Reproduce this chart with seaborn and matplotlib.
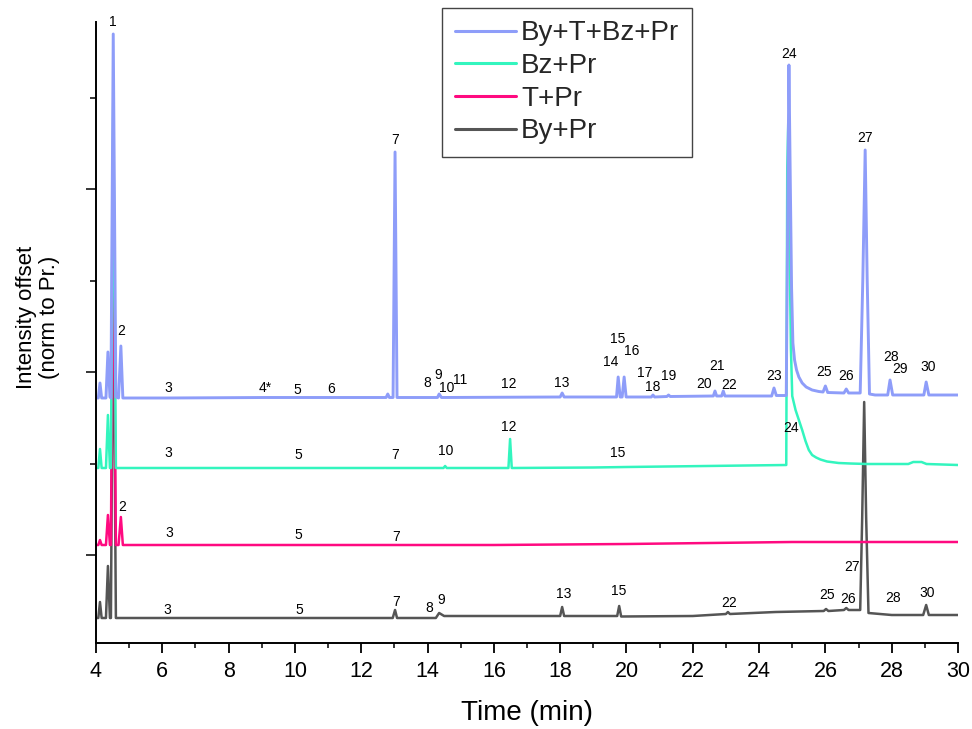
import numpy as np
import pandas as pd
import matplotlib
matplotlib.use("Agg")
import matplotlib.pyplot as plt
import seaborn as sns
from matplotlib.ticker import MultipleLocator, AutoMinorLocator
from matplotlib.lines import Line2D

sns.set_theme(style="white")
plt.rcParams["font.family"] = ["Liberation Sans", "DejaVu Sans"]

# ---------------- data ----------------
series_names = ["By+T+Bz+Pr", "Bz+Pr", "T+Pr", "By+Pr"]
series_colors = ["#8E9DF9", "#33F5BE", "#FF0A80", "#555555"]
series_offsets = [245, 175, 98, 25]

# By+T+Bz+Pr (time in min, intensity above own baseline)
blue_time = [4.00, 4.07, 4.12, 4.17, 4.30, 4.36, 4.42, 4.45, 4.52, 4.60, 4.68, 4.75, 4.81,
             6.10, 9.10, 10.06, 11.09, 12.75, 12.80, 12.85, 12.96, 13.02, 13.08,
             14.30, 14.35, 14.42, 18.00, 18.06, 18.12, 19.70, 19.75, 19.81, 19.87, 19.93, 19.99,
             20.75, 20.80, 20.85, 21.22, 21.27, 21.32, 22.62, 22.67, 22.72, 22.87, 22.92, 22.97,
             24.38, 24.45, 24.52, 24.82, 24.90, 24.94, 24.98, 25.02, 25.07, 25.13, 25.20,
             25.30, 25.42, 25.60, 25.80, 25.93, 26.00, 26.07, 26.56, 26.63, 26.70, 27.05,
             27.13, 27.20, 27.26, 27.33, 27.50, 27.88, 27.95, 28.03, 28.97, 29.04, 29.12, 30.00]
blue_int = [0, 0, 15, 0, 0, 46, 1, 0, 364, 1, 0, 52, 0,
            0, 0.5, 0.5, 0.5, 0.5, 4, 0.5, 0.5, 246, 0.5,
            0.5, 4, 0.5, 1, 5, 1, 1, 21, 1, 1, 21, 1,
            1, 3, 1, 1.5, 3, 1.5, 2, 7, 2, 2, 7, 2,
            2, 10, 2.5, 2.5, 333, 220, 110, 55, 38, 28, 21,
            15, 11, 8, 6.5, 6, 12, 5.5, 5, 9, 5, 5,
            120, 248, 120, 4, 3, 3, 18, 3, 3, 16, 3, 3]

# Bz+Pr
green_time = [4.00, 4.07, 4.12, 4.17, 4.30, 4.36, 4.42, 4.45, 4.52, 4.60, 4.68,
              14.48, 14.53, 14.58, 16.44, 16.49, 16.54, 19.00, 20.00, 24.82, 24.85, 24.88,
              24.92, 24.96, 25.00, 25.10, 25.20, 25.30, 25.40, 25.50, 25.60, 25.72, 25.85,
              26.05, 26.40, 26.75, 27.26, 28.50, 28.65, 28.90, 29.05, 30.00]
green_int = [0, 0, 19, 0, 0, 53, 0, 0, 364, 0, 0,
             0, 2, 0, 0, 29, 0, 0.5, 1, 3, 300, 345,
             220, 120, 72, 58, 48, 38, 27, 18, 13, 10.5, 8.5,
             6.5, 5, 4.5, 4, 4, 6, 6, 4, 3]

# T+Pr
pink_time = [4.00, 4.07, 4.12, 4.17, 4.30, 4.36, 4.42, 4.45, 4.52, 4.60, 4.68, 4.75, 4.81,
             16.00, 20.00, 25.00, 30.00]
pink_int = [0, 0, 5, 0, 0, 30, 0, 0, 364, 0, 0, 28, 0,
            0, 1, 3, 3]

# By+Pr
grey_time = [4.00, 4.07, 4.12, 4.17, 4.30, 4.36, 4.42, 4.45, 4.52, 4.60, 4.68,
             12.95, 13.02, 13.08, 14.25, 14.35, 14.50, 18.00, 18.06, 18.12, 19.72, 19.78,
             19.84, 22.00, 23.00, 23.06, 23.12, 24.50, 25.95, 26.02, 26.09, 26.56, 26.63,
             26.70, 27.05, 27.11, 27.17, 27.23, 27.30, 28.00, 28.95, 29.04, 29.12, 30.00]
grey_int = [0, 0, 16, 0, 0, 52, 0, 0, 364, 0, 0,
            0, 8, 0, 0, 5, 2, 2, 11, 2, 2, 12,
            1.5, 2, 4, 6, 4, 6, 7, 9, 7, 8, 10,
            8, 8, 100, 216, 100, 5, 3, 3, 13, 3, 3]

series_time = [blue_time, green_time, pink_time, grey_time]
series_int = [blue_int, green_int, pink_int, grey_int]

# peak labels: (label, time, height on axis)
blue_labels = [("1", 4.51, 621), ("2", 4.75, 312), ("3", 6.17, 255), ("4*", 9.10, 255),
               ("5", 10.06, 253), ("6", 11.09, 254), ("7", 13.02, 503), ("8", 13.98, 260),
               ("9", 14.32, 268), ("10", 14.59, 255), ("11", 14.98, 263), ("12", 16.46, 259),
               ("13", 18.06, 260), ("14", 19.53, 281), ("15", 19.74, 304), ("16", 20.17, 292),
               ("17", 20.56, 270), ("18", 20.80, 256), ("19", 21.28, 267), ("20", 22.34, 259),
               ("21", 22.73, 277), ("22", 23.09, 258), ("23", 24.45, 267), ("24", 24.90, 589),
               ("25", 25.96, 271), ("26", 26.62, 267), ("27", 27.19, 505), ("28", 27.98, 286),
               ("29", 28.25, 274), ("30", 29.09, 276)]
green_labels = [("3", 6.17, 190), ("5", 10.09, 188), ("7", 13.02, 188), ("10", 14.56, 192),
                ("12", 16.46, 216), ("15", 19.74, 190), ("24", 24.96, 215)]
pink_labels = [("2", 4.78, 136), ("3", 6.20, 110), ("5", 10.09, 108), ("7", 13.05, 106)]
grey_labels = [("3", 6.14, 33), ("5", 10.12, 33), ("7", 13.05, 41), ("8", 14.04, 35),
               ("9", 14.41, 43), ("13", 18.12, 49), ("15", 19.77, 52), ("22", 23.09, 40),
               ("25", 26.05, 48), ("26", 26.68, 44), ("27", 26.80, 76), ("28", 28.04, 45),
               ("30", 29.06, 50)]

x_ticks = list(range(4, 31, 2))

# ---------------- figure ----------------
frames = []
for name, t, v, off in zip(series_names, series_time, series_int, series_offsets):
    frames.append(pd.DataFrame({"time": t, "intensity": np.array(v) + off, "sample": name}))
df = pd.concat(frames, ignore_index=True)

fig = plt.figure(figsize=(9.72, 7.29), dpi=100)
ax = fig.add_axes([96 / 972, 1 - 643 / 729, (958 - 96) / 972, (643 - 22) / 729])

widths = {"By+T+Bz+Pr": 2.1, "Bz+Pr": 1.8, "T+Pr": 1.8, "By+Pr": 1.8}
colors = dict(zip(series_names, series_colors))
for name in reversed(series_names):
    sub = df[df["sample"] == name]
    sns.lineplot(data=sub, x="time", y="intensity", color=colors[name],
                 linewidth=widths[name], sort=False, estimator=None, ax=ax,
                 legend=False)

for labs in (blue_labels, green_labels, pink_labels, grey_labels):
    for s, t, y in labs:
        ax.text(t, y, s, ha="center", va="center", fontsize=10, color="black",
                clip_on=False, zorder=5)

ax.set_xlim(4, 30)
ax.set_ylim(0, 621)
ax.set_xticks(x_ticks)
ax.xaxis.set_minor_locator(AutoMinorLocator(2))
ax.yaxis.set_major_locator(MultipleLocator(183, offset=88))
ax.yaxis.set_minor_locator(AutoMinorLocator(2))
ax.set_yticklabels([])
ax.tick_params(axis="x", which="major", direction="out", length=7.2, width=1.3,
               labelsize=15.5, pad=6, colors="black", bottom=True)
ax.tick_params(axis="x", which="minor", direction="out", length=3.5, width=1.3, bottom=True)
ax.tick_params(axis="y", which="major", direction="out", length=7.2, width=1.3, left=True)
ax.tick_params(axis="y", which="minor", direction="out", length=4.3, width=1.3, left=True)

for side in ("top", "right"):
    ax.spines[side].set_visible(False)
for side in ("left", "bottom"):
    ax.spines[side].set_color("black")
    ax.spines[side].set_linewidth(1.4)

ax.set_xlabel("Time (min)", fontsize=20, labelpad=13, color="black")
ax.set_ylabel("")
fig.text(38 / 972, 1 - 317 / 729, "Intensity offset\n(norm to Pr.)", rotation=90,
         ha="center", va="center", fontsize=16, multialignment="center",
         linespacing=1.15, color="black")

handles = [Line2D([0], [0], color=c, linewidth=2.2) for c in series_colors]
leg = fig.legend(handles, series_names, loc="upper left",
                 bbox_to_anchor=(442 / 972, 1 - 8 / 729), fontsize=20,
                 frameon=True, fancybox=False, framealpha=1, edgecolor="#444444",
                 borderpad=0.45, labelspacing=0.24, handlelength=2.2,
                 handletextpad=0.2, borderaxespad=0)
leg._legend_box.sep = 0
leg.get_frame().set_linewidth(1.0)

fig.savefig("out.png", dpi=100)
